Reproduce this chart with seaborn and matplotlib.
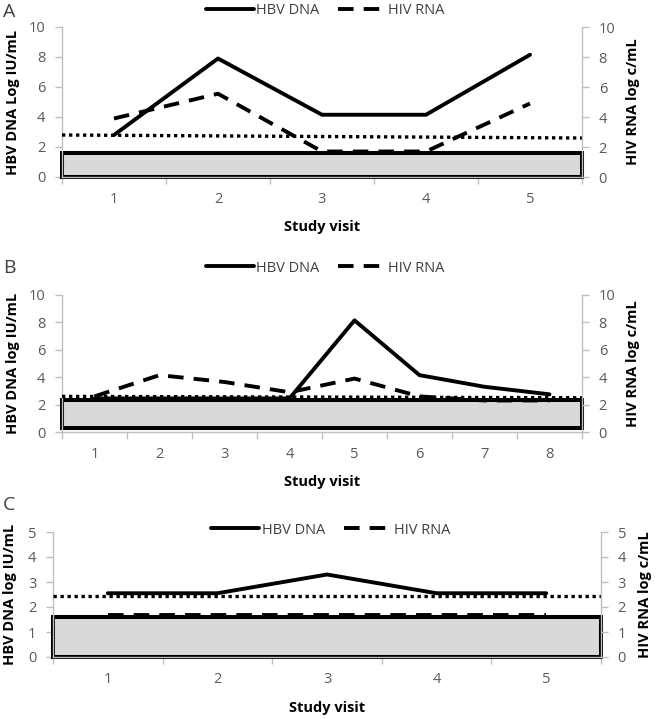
import numpy as np
import pandas as pd
import matplotlib.pyplot as plt
import seaborn as sns

# panel A
visits_a = [1, 2, 3, 4, 5]
hbv_a = [2.8, 7.9, 4.15, 4.15, 8.15]
hiv_a = [3.9, 5.55, 1.7, 1.7, 4.9]
cutoff_a = [2.8, 2.6]
box_a = [0, 1.6]

# panel B
visits_b = [1, 2, 3, 4, 5, 6, 7, 8]
hbv_b = [2.45, 2.45, 2.45, 2.45, 8.15, 4.15, 3.3, 2.75]
hiv_b = [2.6, 4.15, 3.65, 2.9, 3.9, 2.6, 2.3, 2.3]
cutoff_b = [2.6, 2.5]
box_b = [0.3, 2.3]

# panel C
visits_c = [1, 2, 3, 4, 5]
hbv_c = [2.55, 2.55, 3.3, 2.55, 2.55]
hiv_c = [1.7, 1.7, 1.7, 1.7, 1.7]
cutoff_c = [2.45, 2.45]
box_c = [0, 1.6]

sns.set_style("ticks")
plt.rcParams['font.family'] = ['Open Sans', 'DejaVu Sans']

GREY = '#bfbfbf'
TXT = '#595959'

fig = plt.figure(figsize=(6.57, 7.19), dpi=100)


def panel(rect, visits, hbv, hiv, cutoff, box, ymax, step, ylab, letter, letter_y,
          leg_xy, ylab_x, xlab_y):
    ax = fig.add_axes(rect)
    n = len(visits)
    ax.axhspan(box[0], box[1], facecolor='#d9d9d9', edgecolor='black', lw=2.9,
               zorder=1, clip_on=False)
    df = pd.DataFrame({'visit': visits, 'HBV DNA': hbv, 'HIV RNA': hiv})
    cut = pd.DataFrame({'x': [0.5, n + 0.5], 'y': cutoff})
    sns.lineplot(data=cut, x='x', y='y', color='black', lw=2.4,
                 linestyle=(0, (1, 1.1)), ax=ax, zorder=3)
    sns.lineplot(data=df, x='visit', y='HIV RNA', color='black', lw=2.8,
                 linestyle=(0, (4, 2.6)), label='HIV RNA', ax=ax, zorder=4)
    sns.lineplot(data=df, x='visit', y='HBV DNA', color='black', lw=2.8,
                 label='HBV DNA', ax=ax, zorder=5)

    ax.set_xlim(0.5, n + 0.5)
    ax.set_ylim(0, ymax)
    ax.set_xticks(visits)
    ax.set_xticks(np.arange(0.5, n + 1, 1), minor=True)
    yt = np.arange(0, ymax + 0.1, step)
    ax.set_yticks(yt)
    ax.tick_params(axis='x', which='major', length=0, pad=11, labelsize=10.5,
                   labelcolor=TXT)
    ax.tick_params(axis='x', which='minor', length=5, width=1, color=GREY)
    ax.tick_params(axis='y', length=5, width=1, color=GREY, pad=7,
                   labelsize=10.5, labelcolor=TXT)
    for s in ['top', 'right']:
        ax.spines[s].set_visible(False)
    for s in ['left', 'bottom']:
        ax.spines[s].set_color(GREY)
        ax.spines[s].set_linewidth(1)

    ax2 = ax.twinx()
    ax2.set_ylim(0, ymax)
    ax2.set_yticks(yt)
    ax2.tick_params(axis='y', length=5, width=1, color=GREY, pad=7,
                    labelsize=10.5, labelcolor=TXT)
    for s in ['top', 'left', 'bottom']:
        ax2.spines[s].set_visible(False)
    ax2.spines['right'].set_color(GREY)
    ax2.spines['right'].set_linewidth(1)

    ax.set_ylabel(ylab, fontweight='bold', fontsize=10.5, color='black')
    ax.yaxis.set_label_coords(ylab_x[0], 0.5)
    ax2.set_ylabel('HIV RNA log c/mL', fontweight='bold', fontsize=10.5, color='black')
    ax2.yaxis.set_label_coords(ylab_x[1], 0.5)
    ax.set_xlabel('Study visit', fontweight='bold', fontsize=10.5, color='black')
    ax.xaxis.set_label_coords(0.5, xlab_y)

    h, l = ax.get_legend_handles_labels()
    order = [l.index('HBV DNA'), l.index('HIV RNA')]
    ax.legend([h[i] for i in order], [l[i] for i in order], loc='center',
              bbox_to_anchor=leg_xy, ncol=2, frameon=False, handlelength=3.3,
              handletextpad=0.15, columnspacing=1.3, fontsize=10.5,
              labelcolor='#404040')

    fig.text(0.004, letter_y, letter, fontsize=14, color='#404040', va='center')
    return ax


panel([62 / 657, 1 - 177 / 719, 520 / 657, 150 / 719], visits_a, hbv_a, hiv_a,
      cutoff_a, box_a, 10, 2, 'HBV DNA Log IU/mL', 'A', 1 - 12 / 719,
      (0.506, 1.107), (-0.081, 1.085), -0.287)
panel([62 / 657, 1 - 432 / 719, 520 / 657, 137 / 719], visits_b, hbv_b, hiv_b,
      cutoff_b, box_b, 10, 2, 'HBV DNA log IU/mL', 'B', 1 - 268 / 719,
      (0.506, 1.197), (-0.081, 1.085), -0.314)
panel([53 / 657, 1 - 657 / 719, 548 / 657, 125 / 719], visits_c, hbv_c, hiv_c,
      cutoff_c, box_c, 5, 1, 'HBV DNA log IU/mL', 'C', 1 - 505 / 719,
      (0.507, 1.016), (-0.066, 1.068), -0.352)

fig.savefig('out.png', dpi=100)
